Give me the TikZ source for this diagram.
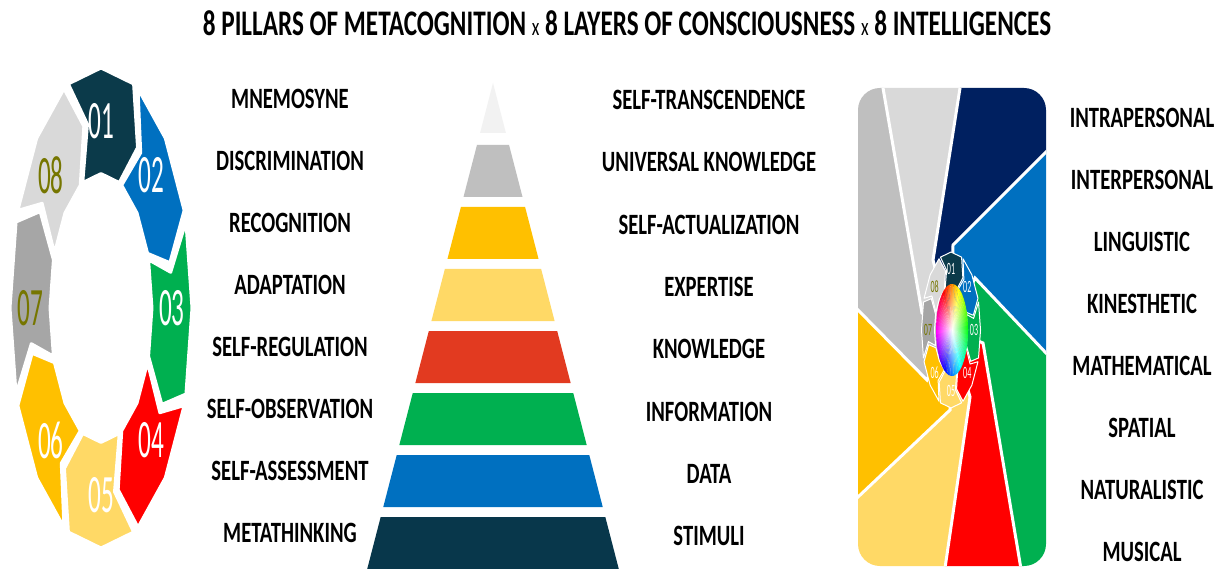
\documentclass[tikz,border=0pt]{standalone}
\usepackage{fontspec}
\setmainfont{Carlito}[FakeStretch=0.7]
\usepackage{tikz}
\usetikzlibrary{calc,fadings}
\definecolor{pillarteal}{RGB}{11,58,74}
\definecolor{pillarblue}{RGB}{0,112,192}
\definecolor{pillargreen}{RGB}{0,176,80}
\definecolor{pillarred}{RGB}{255,0,0}
\definecolor{pillarsand}{RGB}{255,217,102}
\definecolor{pillargold}{RGB}{255,192,0}
\definecolor{pillargray}{RGB}{166,166,166}
\definecolor{pillarsilver}{RGB}{217,217,217}
\definecolor{pillarolive}{RGB}{118,118,0}
\definecolor{layerwhite}{RGB}{242,242,242}
\definecolor{layergray}{RGB}{191,191,191}
\definecolor{layerred}{RGB}{226,58,32}
\definecolor{layerteal}{RGB}{8,55,75}
\definecolor{wedgenavy}{RGB}{0,32,96}
\definecolor{wedgegray}{RGB}{191,191,191}
\tikzfading[name=hubfade, inner color=transparent!0, outer color=transparent!100]
\tikzset{
  titletext/.style={font=\fontsize{36}{36}\selectfont\bfseries, inner sep=0pt},
  itemtext/.style={font=\fontsize{29.5}{30}\selectfont\bfseries, inner sep=0pt},
  segment/.style={draw=white, line join=round},
  seam/.style={white, line width=3pt},
}
% small "x" between the three title parts
\newcommand{\bytimes}{{\mdseries\fontsize{25}{25}\selectfont x}}
% ring of eight chevrons, drawn in a unit circle (scope sets x/y radii)
% #1 number size, #2 gap width, #3 node prefix
\newcommand{\pillarring}[3]{%
  \foreach \k/\col/\ink in {1/pillarteal/white, 2/pillarblue/white, 3/pillargreen/white,
      4/pillarred/white, 5/pillarsand/white, 6/pillargold/white,
      7/pillargray/pillarolive, 8/pillarsilver/pillarolive}{
    \pgfmathsetmacro{\ang}{135-45*\k}
    \filldraw[segment, line width=#2, fill=\col]
      (\ang+21:1) -- (\ang:1) -- (\ang-21:1) -- (\ang-31:0.78)
      -- (\ang-21:0.56) -- (\ang:0.56) -- (\ang+21:0.56) -- (\ang+11:0.78) -- cycle;
    \node[text=\ink, font=\fontsize{#1}{#1}\selectfont, inner sep=0pt] (#3\k)
      at (\ang:0.78) {\scalebox{1}[1.5]{0\k}};
  }%
}
\begin{document}
\begin{tikzpicture}[x=1pt,y=1pt]
  \fill[white] (0,0) rectangle (1230,568);
  \useasboundingbox (0,0) rectangle (1230,568);

  \node[titletext] (title) at (627,545)
    {8 PILLARS OF METACOGNITION \bytimes{} 8 LAYERS OF CONSCIOUSNESS \bytimes{} 8 INTELLIGENCES};

  % --- pillars ring (left) ---
  \begin{scope}[shift={(101,260)}, x=91pt, y=240pt]
    \pillarring{36}{3pt}{pillar}
  \end{scope}
  \foreach \t [count=\i] in {MNEMOSYNE, DISCRIMINATION, RECOGNITION, ADAPTATION,
      SELF-REGULATION, SELF-OBSERVATION, SELF-ASSESSMENT, METATHINKING}
    \node[itemtext] (step\i) at (290,{469-62*(\i-1)}) {\t};

  % --- layers pyramid (middle) ---
  \fill[layerwhite] (493,485) -- (505.9,435) -- (480.1,435) -- cycle;
  \foreach \k/\col in {1/layergray, 2/pillargold, 3/pillarsand, 4/layerred,
      5/pillargreen, 6/pillarblue, 7/layerteal}{
    \pgfmathsetmacro{\ytop}{423-62*(\k-1)}
    \pgfmathsetmacro{\ybot}{\ytop-52}
    \pgfmathsetmacro{\wtop}{0.2588*(485-\ytop)}
    \pgfmathsetmacro{\wbot}{0.2588*(485-\ybot)}
    \fill[\col] (493-\wtop,\ytop) -- (493+\wtop,\ytop) -- (493+\wbot,\ybot)
      -- (493-\wbot,\ybot) -- cycle;
  }
  \foreach \t [count=\i] in {SELF-TRANSCENDENCE, UNIVERSAL KNOWLEDGE, SELF-ACTUALIZATION,
      EXPERTISE, KNOWLEDGE, INFORMATION, DATA, STIMULI}
    \node[itemtext] (layer\i) at (709,{468-62.3*(\i-1)}) {\t};

  % --- intelligences panel (right) ---
  \coordinate (hub) at (951,238);
  \foreach \n/\inner/\outer in {1/{922,255}/{883,480}, 2/{933,308}/{960,480},
      3/{953,323}/{1046,416}, 4/{975,290}/{1046,215}, 5/{983,225}/{1020,5},
      6/{970,171}/{945,0}, 7/{950,158}/{858,71}, 8/{927,188}/{858,258}}{
    \coordinate (in\n) at (\inner);
    \coordinate (out\n) at ($(\inner)!8!(\outer)$);
  }
  \begin{scope}
    \clip[rounded corners=22pt] (858,2) rectangle (1046,480);
    \foreach \a/\b/\col in {1/2/pillarsilver, 2/3/wedgenavy, 3/4/pillarblue,
        4/5/pillargreen, 5/6/pillarred, 6/7/pillarsand, 7/8/pillargold, 8/1/wedgegray}
      \fill[\col] (hub) -- (in\a) -- (out\a) -- (out\b) -- (in\b) -- cycle;
    \foreach \a in {1,...,8}
      \draw[seam] (hub) -- (in\a) -- (out\a);
  \end{scope}
  \begin{scope}[shift={(951,238)}, x=29.5pt, y=78pt]
    \pillarring{11.5}{1pt}{mini}
  \end{scope}
  % colour wheel in the hub, white towards the centre
  \begin{scope}[shift={(952,238)}, x=16pt, y=46pt]
    \foreach \a in {0,6,...,354}{
      \pgfmathsetmacro{\hue}{mod(480-\a,360)/360}
      \definecolor{wheel}{hsb}{\hue,1,1}
      \fill[wheel] (0,0) -- (\a:1) -- (\a+6.5:1) -- cycle;
    }
    \fill[white, path fading=hubfade] (0:1) \foreach \a in {6,12,...,354}{ -- (\a:1)} -- cycle;
  \end{scope}
  \foreach \t [count=\i] in {INTRAPERSONAL, INTERPERSONAL, LINGUISTIC, KINESTHETIC,
      MATHEMATICAL, SPATIAL, NATURALISTIC, MUSICAL}
    \node[itemtext] (smart\i) at (1142,{450-62*(\i-1)}) {\t};
\end{tikzpicture}
\end{document}
